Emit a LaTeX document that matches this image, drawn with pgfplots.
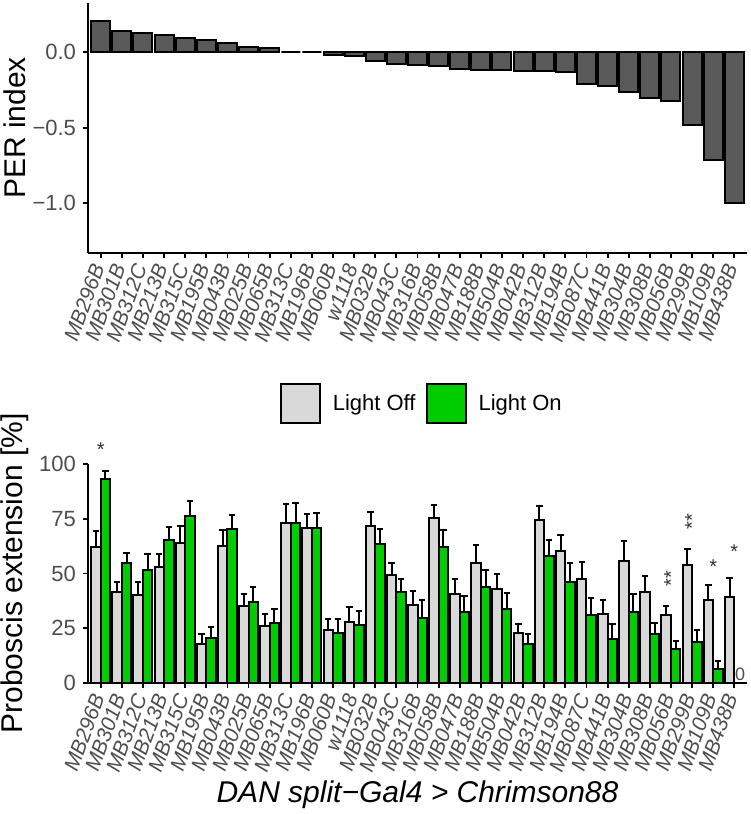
\documentclass[border=0pt]{standalone}
\usepackage{fontspec}
\setmainfont{Liberation Sans}
\usepackage{pgfplots}
\usepackage{pgfplotstable}
\pgfplotsset{compat=1.18}
\definecolor{bardark}{HTML}{595959}
\definecolor{offgrey}{HTML}{D9D9D9}
\definecolor{ongreen}{HTML}{00CD00}
\definecolor{ticktext}{HTML}{4D4D4D}
\definecolor{startext}{HTML}{333333}

\pgfplotstableread{
i name per
0 MB296B 0.204
1 MB301B 0.140
2 MB312C 0.129
3 MB213B 0.110
4 MB315C 0.090
5 MB195B 0.077
6 MB043B 0.061
7 MB025B 0.035
8 MB065B 0.026
9 MB313C 0.000
10 MB196B 0.000
11 MB060B -0.022
12 w1118 -0.028
13 MB032B -0.057
14 MB043C -0.082
15 MB316B -0.087
16 MB058B -0.094
17 MB047B -0.110
18 MB188B -0.116
19 MB504B -0.118
20 MB042B -0.123
21 MB312B -0.127
22 MB194B -0.132
23 MB087C -0.208
24 MB441B -0.224
25 MB304B -0.263
26 MB308B -0.303
27 MB056B -0.322
28 MB299B -0.485
29 MB109B -0.715
30 MB438B -1.000
}\pertable

\pgfplotstableread{
i name off offe on one
0 MB296B 62.2 7.3 93.1 3.5
1 MB301B 41.6 4.7 54.6 4.9
2 MB312C 40.2 5.7 51.7 7.1
3 MB213B 53.0 5.8 65.4 5.8
4 MB315C 63.9 7.9 76.1 7.1
5 MB195B 17.7 4.6 20.6 5.0
6 MB043B 62.5 7.3 70.1 6.7
7 MB025B 35.2 5.5 37.2 6.6
8 MB065B 25.9 5.7 27.3 6.4
9 MB313C 73.2 8.5 73.2 9.1
10 MB196B 70.9 6.4 70.9 6.8
11 MB060B 24.1 5.0 23.0 6.0
12 w1118 27.9 6.9 26.7 6.4
13 MB032B 71.6 6.4 63.3 6.8
14 MB043C 49.2 5.8 41.6 6.1
15 MB316B 35.5 6.4 29.7 8.3
16 MB058B 75.2 6.2 62.0 7.8
17 MB047B 40.5 7.2 32.3 7.6
18 MB188B 55.0 7.8 43.9 7.8
19 MB504B 42.7 7.1 34.0 6.9
20 MB042B 22.9 4.1 17.7 4.6
21 MB312B 74.5 6.1 57.8 7.4
22 MB194B 60.2 7.6 46.2 8.7
23 MB087C 47.4 7.8 31.1 7.5
24 MB441B 31.6 6.5 20.1 6.7
25 MB304B 55.6 9.2 32.3 8.2
26 MB308B 41.5 7.3 22.3 5.1
27 MB056B 30.9 4.3 15.7 3.5
28 MB299B 53.8 7.2 18.9 5.5
29 MB109B 37.8 7.0 6.4 3.8
30 MB438B 39.2 8.7 0.0 0.0
}\pextable

\pgfplotstableread{
x y lab
0 106.7 *
29 53 *
30 60 *
}\onestar

\pgfplotstableread{
x y lab
27 46 **
28 72 **
}\twostar

\pgfplotsset{
  common/.style={
    scale only axis, width=329.5pt,
    xmin=-0.6, xmax=30.6,
    axis lines=left, axis line style={-, black, line width=0.9pt},
    tick align=outside, major tick length=2.5pt,
    tick style={black, line width=0.9pt},
    xtick={0,...,30},
    xticklabel style={rotate=70, anchor=east, font=\itshape\fontsize{10.5}{12}\selectfont, text=ticktext},
    yticklabel style={font=\fontsize{11}{13}\selectfont, text=ticktext},
    ylabel style={at={(axis description cs:-0.111,0.5)}, anchor=center, font=\fontsize{15}{18}\selectfont},
  },
  sqlegend/.style={legend image code/.code={\draw[##1, line width=1pt] (0pt,-9.75pt) rectangle (19.5pt,9.75pt);}},
  ebars/.style={error bars/.cd, y dir=plus, y explicit,
    error bar style={line width=1pt, black},
    error mark options={rotate=90, line width=1pt, mark size=1.6pt, black}},
}

\begin{document}
\begin{tikzpicture}
\path[use as bounding box] (-44pt,-65.5pt) rectangle (331pt,341.5pt);

\begin{axis}[common, at={(0pt,215pt)}, anchor=south west, height=125pt,
  ymin=-1.33, ymax=0.325,
  ytick={-1,-0.5,0}, yticklabels={−1.0,−0.5,0.0},
  xticklabels from table={\pertable}{name},
  ylabel={PER index}]
\addplot[ybar, bar width=0.9, bar shift=0pt, fill=bardark, draw=black, line width=1pt]
  table[x=i, y=per]{\pertable};
\end{axis}

\begin{axis}[common, at={(0pt,0pt)}, anchor=south west, height=109.5pt,
  ymin=0, ymax=100, clip=false,
  ytick={0,25,50,75,100}, yticklabels={0,25,50,75,100},
  xticklabels from table={\pextable}{name},
  ylabel={Proboscis extension [\%]},
  xlabel={DAN split−Gal4 > Chrimson88},
  xlabel style={at={(axis description cs:0.5,0)}, anchor=center, yshift=-56pt, font=\itshape\fontsize{15}{18}\selectfont},
  legend style={draw=none, fill=none, at={(0.508,1.274)}, anchor=center,
    legend columns=2, font=\fontsize{11}{13}\selectfont,
    /tikz/every odd column/.append style={column sep=4pt},
    /tikz/every even column/.append style={column sep=3pt}},
  ]
\addplot[ybar, bar width=0.45, bar shift=0pt, fill=offgrey, draw=black, line width=1pt, sqlegend, ebars]
  table[x expr=\thisrow{i}-0.225, y=off, y error=offe]{\pextable};
\addlegendentry{Light Off}
\addplot[ybar, bar width=0.45, bar shift=0pt, fill=ongreen, draw=black, line width=1pt, sqlegend, ebars]
  table[x expr=\thisrow{i}+0.225, y=on, y error=one]{\pextable};
\addlegendentry{Light On}

\addplot[forget plot, draw=none, mark=none, nodes near coords, point meta=explicit symbolic,
  nodes near coords style={anchor=center, font=\fontsize{10}{12}\selectfont, text=startext}]
  table[x=x, y=y, meta=lab]{\onestar};
\addplot[forget plot, draw=none, mark=none, nodes near coords, point meta=explicit symbolic,
  nodes near coords style={anchor=center, rotate=90, xshift=2pt, font=\fontsize{10}{12}\selectfont, text=startext}]
  table[x=x, y=y, meta=lab]{\twostar};
\addplot[forget plot, draw=none, mark=none, nodes near coords, point meta=explicit symbolic,
  nodes near coords style={anchor=south, inner sep=1pt, font=\fontsize{9}{11}\selectfont, text=ticktext}]
  coordinates {(30.27,0) [0]};
\end{axis}
\end{tikzpicture}
\end{document}
